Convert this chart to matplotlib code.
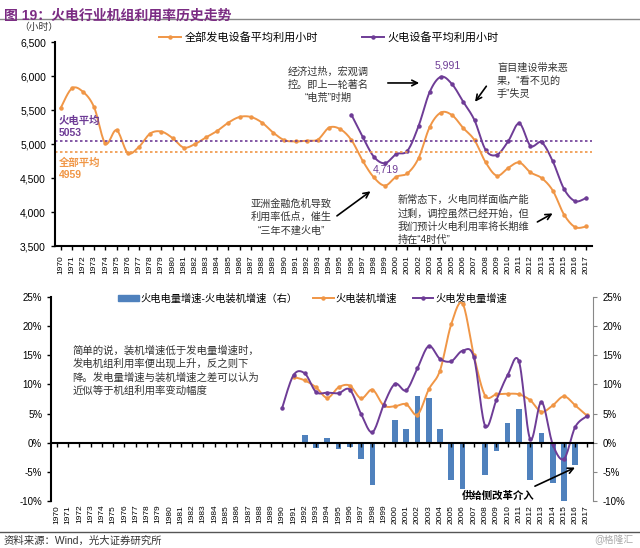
import numpy as np
import matplotlib
matplotlib.use("Agg")
import matplotlib.pyplot as plt
from matplotlib.lines import Line2D

plt.rcParams['font.family'] = ['Liberation Sans', 'Noto Sans CJK SC', 'DejaVu Sans']

# ---- data ----
years = list(range(1970, 2018))
all_hours = [5530, 5820, 5770, 5540, 5010, 5205, 4870, 4960, 5155, 5185,
             5090, 4950, 5000, 5100, 5195, 5317, 5400, 5400, 5317, 5170,
             5058, 5040, 5050, 5068, 5243, 5220, 5058, 4755, 4510, 4390,
             4520, 4570, 4795, 5255, 5465, 5425, 5235, 5058, 4730, 4535,
             4648, 4730, 4584, 4500, 4315, 3963, 3778, 3788]
thermal_years = list(range(1996, 2018))
thermal_hours = [5430, 5107, 4814, 4719, 4853, 4902, 5268, 5771, 5991, 5880,
                 5620, 5350, 4912, 4843, 5040, 5305, 4975, 5025, 4745, 4340,
                 4160, 4210]
avg_thermal = 5053
avg_all = 4959
avg_all_line = 4885   # where the dotted line sits in the picture

gen_years = list(range(1990, 2018))
gen_growth = [6.0, 11.6, 11.9, 8.7, 8.6, 8.5, 9.1, 4.9, 1.8, 6.5,
              10.1, 9.0, 12.8, 16.6, 14.4, 14.0, 15.8, 14.7, 2.9, 7.3,
              11.6, 14.0, 0.6, 7.0, -0.3, -2.8, 2.7, 4.5]
cap_years = list(range(1991, 2018))
cap_growth = [11.3, 10.7, 9.5, 7.7, 9.5, 9.8, 7.6, 9.1, 6.4, 6.25,
              6.6, 4.8, 9.15, 12.4, 20.4, 23.9, 15.0, 8.1, 8.3, 8.4,
              8.3, 7.3, 5.3, 6.4, 7.95, 6.4, 4.7]
diff_growth = [0.1, 1.3, -1.0, 0.85, -1.1, -0.8, -2.8, -7.3, 0.17, 3.9,
               2.4, 8.0, 7.6, 2.3, -6.5, -7.9, 0.1, -5.5, -1.4, 3.3,
               5.7, -6.5, 1.7, -6.9, -10.1, -3.9, -0.3]

ORANGE = '#F09646'
PURPLE = '#6E3C96'
BLUE = '#4F81BD'
TXT = '#333333'


def smooth(x, y, n=16):
    # Catmull-Rom curve through the points (like Excel smoothed lines)
    p = np.column_stack([x, y]).astype(float)
    p = np.vstack([p[0], p, p[-1]])
    out = []
    t = np.linspace(0, 1, n)[:, None]
    for i in range(1, len(p) - 2):
        p0, p1, p2, p3 = p[i - 1], p[i], p[i + 1], p[i + 2]
        seg = 0.5 * ((2 * p1) + (-p0 + p2) * t + (2 * p0 - 5 * p1 + 4 * p2 - p3) * t ** 2
                     + (-p0 + 3 * p1 - 3 * p2 + p3) * t ** 3)
        out.append(seg if i == 1 else seg[1:])
    s = np.vstack(out)
    return s[:, 0], s[:, 1]


fig = plt.figure(figsize=(6.4, 5.48), dpi=100)

fig.text(0.006, 0.984, '图 19：火电行业机组利用率历史走势', color='#7B2C83',
         fontsize=10, fontweight='bold', va='top')
fig.add_artist(Line2D([0, 1], [0.966, 0.966], color='#888888', lw=1))
fig.add_artist(Line2D([0, 1], [0.03, 0.03], color='#555555', lw=1))
fig.text(0.006, 0.014, '资料来源：Wind，光大证券研究所', fontsize=7.5, color=TXT, va='center')
fig.text(0.99, 0.014, '@格隆汇', fontsize=7, color='#aaaaaa', va='center', ha='right')

# ---- top chart ----
ax1 = fig.add_axes([0.086, 0.551, 0.839, 0.372])
sx, sy = smooth(years, all_hours)
ax1.plot(sx, sy, color=ORANGE, lw=1.4)
ax1.plot(years, all_hours, 'o', color=ORANGE, ms=2.2)
sx, sy = smooth(thermal_years, thermal_hours)
ax1.plot(sx, sy, color=PURPLE, lw=1.4)
ax1.plot(thermal_years, thermal_hours, 'o', color=PURPLE, ms=2.2)
ax1.axhline(avg_thermal, color=PURPLE, ls=(0, (1.5, 1.5)), lw=1.2)
ax1.axhline(avg_all_line, color=ORANGE, ls=(0, (1.5, 1.5)), lw=1.2)

ax1.set_xlim(1969.5, 2017.5)
ax1.set_ylim(3500, 6500)
ax1.set_yticks(range(3500, 6501, 500))
ax1.set_yticklabels([f'{v:,}' for v in range(3500, 6501, 500)], fontsize=7.5)
ax1.set_xticks(years)
ax1.set_xticklabels([str(y) for y in years], rotation=90, fontsize=6)
ax1.tick_params(axis='both', length=3, width=1, colors='black')
for s in ['top', 'right']:
    ax1.spines[s].set_visible(False)
for s in ['left', 'bottom']:
    ax1.spines[s].set_linewidth(1.5)

fig.text(0.06, 0.951, '（小时）', fontsize=7, ha='center', va='center', color=TXT)

h1 = Line2D([], [], color=ORANGE, lw=1.4, marker='o', ms=2.2)
h2 = Line2D([], [], color=PURPLE, lw=1.4, marker='o', ms=2.2)
ax1.legend([h1, h2], ['全部发电设备平均利用小时', '火电设备平均利用小时'], ncol=2,
           loc='center', bbox_to_anchor=(0.51, 1.025), frameon=False, fontsize=8,
           handlelength=2.0, columnspacing=4.0, handletextpad=0.3)

ax1.text(1969.8, 5415, '火电平均\n5053', color=PURPLE, fontsize=7.5, fontweight='bold',
         va='top', ha='left', linespacing=1.3)
ax1.text(1969.8, 4800, '全部平均\n4959', color=ORANGE, fontsize=7.5, fontweight='bold',
         va='top', ha='left', linespacing=1.3)
ax1.text(2004.6, 6150, '5,991', color=PURPLE, fontsize=7.5, ha='center', va='center')
ax1.text(1999.1, 4620, '4,719', color=PURPLE, fontsize=7.5, ha='center', va='center')

ann = dict(fontsize=7.3, color=TXT, linespacing=1.35)
ax1.text(1993.9, 6140, '经济过热，宏观调\n控。即上一轮著名\n“电荒”时期',
         ha='center', va='top', **ann)
ax1.annotate('', xy=(2002.3, 5900), xytext=(1999.0, 5900),
             arrowprops=dict(arrowstyle='->', color='black', lw=1.2))
ax1.text(2009.0, 6200, '盲目建设带来恶\n果，“看不见的\n手”失灵',
         ha='left', va='top', **ann)
ax1.annotate('', xy=(2006.9, 5590), xytext=(2008.2, 5885),
             arrowprops=dict(arrowstyle='->', color='black', lw=1.2))
ax1.text(1990.6, 4190, '亚洲金融危机导致\n利用率低点，催生\n“三年不建火电”',
         ha='center', va='top', multialignment='center', **ann)
ax1.annotate('', xy=(1997.9, 4330), xytext=(1994.5, 3920),
             arrowprops=dict(arrowstyle='->', color='black', lw=1.2))
ax1.text(2000.1, 4250, '新常态下，火电同样面临产能\n过剩，调控虽然已经开始，但\n我们预计火电利用率将长期维\n持在“4时代”',
         ha='left', va='top', **ann)
ax1.annotate('', xy=(2014.2, 4000), xytext=(2012.4, 3835),
             arrowprops=dict(arrowstyle='->', color='black', lw=1.2))

# ---- bottom chart ----
ax2 = fig.add_axes([0.080, 0.0863, 0.847, 0.3712])
ax2r = ax2.twinx()
ax2r.bar(cap_years, diff_growth, width=0.5, color=BLUE, zorder=1)
ax2.set_zorder(ax2r.get_zorder() + 1)
ax2.patch.set_visible(False)

sx, sy = smooth(cap_years, cap_growth)
ax2.plot(sx, sy, color=ORANGE, lw=1.4)
ax2.plot(cap_years, cap_growth, 'o', color=ORANGE, ms=2.2)
sx, sy = smooth(gen_years, gen_growth)
ax2.plot(sx, sy, color=PURPLE, lw=1.4)
ax2.plot(gen_years, gen_growth, 'o', color=PURPLE, ms=2.2)

for a in (ax2, ax2r):
    a.set_ylim(-10, 25)
    a.set_yticks(range(-10, 26, 5))
    a.set_yticklabels([f'{v}%' for v in range(-10, 26, 5)], fontsize=7)
    a.set_xlim(1969.5, 2017.6)
    a.spines['top'].set_visible(False)
ax2r.spines['left'].set_visible(False)
ax2r.spines['bottom'].set_visible(False)
ax2r.spines['right'].set_color('#888888')
ax2r.tick_params(axis='y', length=3, color='#888888')

ax2.spines['right'].set_visible(False)
ax2.spines['left'].set_linewidth(1.5)
ax2.spines['bottom'].set_position(('data', 0))
ax2.spines['bottom'].set_linewidth(1.5)
ax2.set_xticks(years)
ax2.tick_params(axis='x', labelbottom=False, length=3, width=1)
ax2.tick_params(axis='y', length=3, width=1)

sec = ax2.secondary_xaxis('bottom')
sec.set_xticks(years)
sec.set_xticklabels([str(y) for y in years], rotation=90, fontsize=6)
sec.tick_params(length=0, pad=3)
sec.spines['bottom'].set_visible(False)

hb = plt.Rectangle((0, 0), 1, 1, color=BLUE)
ax2r.legend([hb, h1, h2], ['火电电量增速-火电装机增速（右）', '火电装机增速', '火电发电量增速'],
            ncol=3, loc='center', bbox_to_anchor=(0.482, 0.995), frameon=False,
            fontsize=7.4, handlelength=2.0, handleheight=0.45, columnspacing=1.5,
            handletextpad=0.2)

ax2.text(1971.4, 16.8, '简单的说，装机增速低于发电量增速时，\n发电机组利用率便出现上升，反之则下\n降。发电量增速与装机增速之差可以认为\n近似等于机组利用率变动幅度',
         ha='left', va='top', fontsize=7.5, color=TXT, linespacing=1.4)
ax2.text(2009.2, -9.1, '供给侧改革介入', fontsize=7.5, fontweight='bold', color='black',
         ha='center', va='center')
ax2.annotate('', xy=(2016.2, -4.1), xytext=(2012.2, -7.7),
             arrowprops=dict(arrowstyle='->', color='black', lw=1.2))

fig.savefig('out.png', dpi=100)
